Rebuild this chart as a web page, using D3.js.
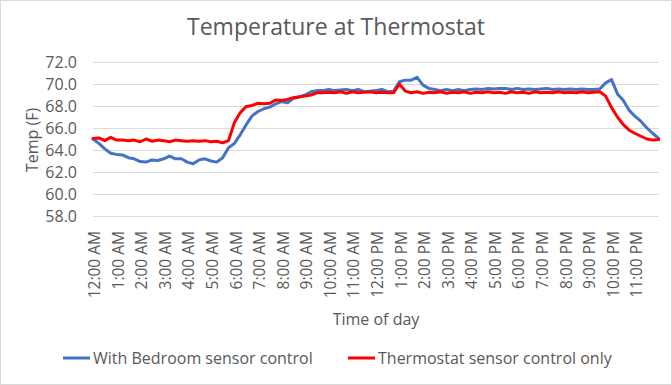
<!DOCTYPE html>
<html>
<head>
<meta charset="utf-8">
<script src="https://cdn.jsdelivr.net/npm/d3@7"></script>
<style>
  body { margin: 0; background: #fff; }
  text { font-family: "Open Sans", "Liberation Sans", sans-serif; fill: #595959; }
</style>
</head>
<body>
<svg id="chart" width="672" height="385"></svg>
<script>
// readings every 15 minutes, 12:00 AM .. midnight
const quarterHours = d3.range(0, 97).map(i => i / 4)

const bedroom = [
  65.0, 64.6, 64.1, 63.7, 63.6, 63.55, 63.3, 63.2, 62.95, 62.9, 63.1, 63.05,
  63.2, 63.45, 63.2, 63.2, 62.9, 62.75, 63.1, 63.2, 63.0, 62.9, 63.3, 64.2,
  64.6, 65.4, 66.3, 67.1, 67.5, 67.75, 67.9, 68.2, 68.4, 68.3, 68.7, 68.8,
  69.0, 69.3, 69.4, 69.4, 69.5, 69.4, 69.45, 69.5, 69.4, 69.5, 69.3, 69.35,
  69.4, 69.5, 69.3, 69.35, 70.2, 70.35, 70.35, 70.6, 69.9, 69.6, 69.5, 69.4,
  69.5, 69.4, 69.5, 69.4, 69.5, 69.55, 69.5, 69.6, 69.55, 69.6, 69.6, 69.5,
  69.6, 69.5, 69.55, 69.5, 69.55, 69.6, 69.5, 69.55, 69.5, 69.55, 69.5, 69.55,
  69.5, 69.5, 69.55, 70.1, 70.4, 69.1, 68.5, 67.6, 67.05, 66.6, 66.0, 65.5,
  65.05
]

const thermostatOnly = [
  65.05, 65.1, 64.85, 65.15, 64.9, 64.9, 64.85, 64.9, 64.75, 65.0, 64.8, 64.9,
  64.85, 64.75, 64.9, 64.85, 64.8, 64.85, 64.8, 64.85, 64.75, 64.8, 64.65, 64.85,
  66.5, 67.4, 67.95, 68.05, 68.25, 68.2, 68.25, 68.55, 68.5, 68.6, 68.75, 68.85,
  68.9, 69.0, 69.2, 69.2, 69.25, 69.2, 69.3, 69.15, 69.3, 69.2, 69.25, 69.3,
  69.2, 69.25, 69.2, 69.2, 70.0, 69.35, 69.2, 69.3, 69.15, 69.25, 69.2, 69.3,
  69.15, 69.25, 69.2, 69.3, 69.15, 69.25, 69.2, 69.3, 69.2, 69.25, 69.15, 69.3,
  69.2, 69.25, 69.15, 69.3, 69.2, 69.25, 69.2, 69.3, 69.2, 69.25, 69.2, 69.3,
  69.2, 69.25, 69.3, 68.9, 67.85, 67.0, 66.3, 65.8, 65.5, 65.25, 65.0, 64.9,
  64.95
]

const hourLabels = [
  "12:00 AM", "1:00 AM", "2:00 AM", "3:00 AM", "4:00 AM", "5:00 AM",
  "6:00 AM", "7:00 AM", "8:00 AM", "9:00 AM", "10:00 AM", "11:00 AM",
  "12:00 PM", "1:00 PM", "2:00 PM", "3:00 PM", "4:00 PM", "5:00 PM",
  "6:00 PM", "7:00 PM", "8:00 PM", "9:00 PM", "10:00 PM", "11:00 PM"
]

const yTicks = [58, 60, 62, 64, 66, 68, 70, 72]

const series = [
  { name: "With Bedroom sensor control", values: bedroom, color: "#4472C4" },
  { name: "Thermostat sensor control only", values: thermostatOnly, color: "#FF0000" }
]

const svg = d3.select("#chart")

svg.append("rect")
  .attr("x", 0.5).attr("y", 0.5)
  .attr("width", 671).attr("height", 384)
  .style("fill", "#fff")
  .style("stroke", "#D9D9D9")

const x = d3.scaleLinear().domain([0, 24]).range([93, 658.7])
const y = d3.scaleLinear().domain([58, 72]).range([216, 62])

// gridlines
svg.append("g")
  .selectAll("line")
  .data(yTicks)
  .join("line")
  .attr("x1", 93).attr("x2", 658.7)
  .attr("y1", d => Math.round(y(d)) + 0.5)
  .attr("y2", d => Math.round(y(d)) + 0.5)
  .style("stroke", "#D9D9D9")
  .style("stroke-width", 1)

// y tick labels
svg.append("g")
  .selectAll("text")
  .data(yTicks)
  .join("text")
  .attr("x", 77)
  .attr("y", d => y(d))
  .attr("dy", "0.36em")
  .attr("text-anchor", "end")
  .style("font-size", "16px")
  .text(d => d.toFixed(1))

// x tick labels, rotated
svg.append("g")
  .selectAll("text")
  .data(hourLabels)
  .join("text")
  .attr("transform", (d, i) => `translate(${x(i) + 1.5},231) rotate(-90)`)
  .attr("dy", "0.36em")
  .attr("text-anchor", "end")
  .style("font-size", "15.5px")
  .text(d => d)

const line = d3.line()
  .x((d, i) => x(quarterHours[i]))
  .y(d => y(d))

series.forEach(s => {
  svg.append("path")
    .datum(s.values)
    .attr("d", line)
    .style("fill", "none")
    .style("stroke", s.color)
    .style("stroke-width", 3)
    .style("stroke-linejoin", "round")
    .style("stroke-linecap", "round")
})

// titles
svg.append("text")
  .attr("x", 336).attr("y", 35)
  .attr("text-anchor", "middle")
  .style("font-size", "23px")
  .text("Temperature at Thermostat")

svg.append("text")
  .attr("transform", "translate(32,140) rotate(-90)")
  .attr("dy", "0.36em")
  .attr("text-anchor", "middle")
  .style("font-size", "16px")
  .text("Temp (F)")

svg.append("text")
  .attr("x", 376).attr("y", 319)
  .attr("dy", "0.36em")
  .attr("text-anchor", "middle")
  .style("font-size", "16px")
  .text("Time of day")

// legend
const legendX = [63, 348]
const legend = svg.append("g")
series.forEach((s, i) => {
  legend.append("line")
    .attr("x1", legendX[i]).attr("x2", legendX[i] + 27)
    .attr("y1", 358).attr("y2", 358)
    .style("stroke", s.color)
    .style("stroke-width", 3)
  legend.append("text")
    .attr("x", legendX[i] + 30).attr("y", 358)
    .attr("dy", "0.36em")
    .style("font-size", "16px")
    .text(s.name)
})
</script>
</body>
</html>
